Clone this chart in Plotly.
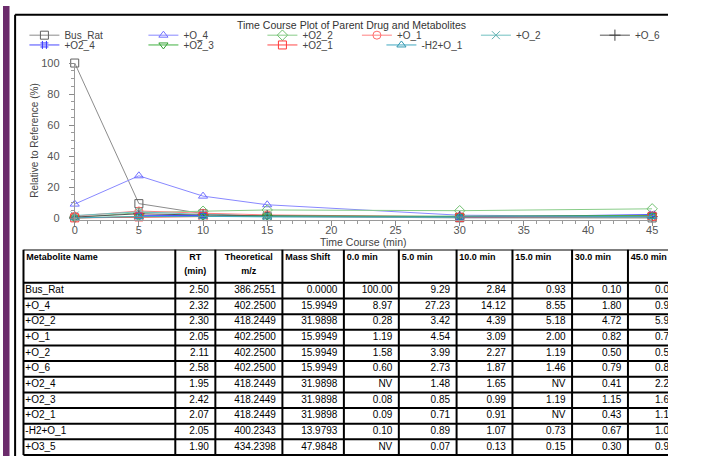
import plotly.graph_objects as go

W, H = 714, 460

times = [0, 5, 10, 15, 30, 45]
time_headers = ["0.0 min", "5.0 min", "10.0 min", "15.0 min", "30.0 min", "45.0 min"]

names = ["Bus_Rat", "+O_4", "+O2_2", "+O_1", "+O_2", "+O_6",
         "+O2_4", "+O2_3", "+O2_1", "-H2+O_1", "+O3_5"]
rt = [2.50, 2.32, 2.30, 2.05, 2.11, 2.58, 1.95, 2.42, 2.07, 2.05, 1.90]
mz = [386.2551, 402.2500, 418.2449, 402.2500, 402.2500, 402.2500,
      418.2449, 418.2449, 418.2449, 400.2343, 434.2398]
mass_shift = [0.0000, 15.9949, 31.9898, 15.9949, 15.9949, 15.9949,
              31.9898, 31.9898, 31.9898, 13.9793, 47.9848]

NV = None
bus_rat = [100.00, 9.29, 2.84, 0.93, 0.10, 0.03]
o_4 = [8.97, 27.23, 14.12, 8.55, 1.80, 0.95]
o2_2 = [0.28, 3.42, 4.39, 5.18, 4.72, 5.93]
o_1 = [1.19, 4.54, 3.09, 2.00, 0.82, 0.73]
o_2 = [1.58, 3.99, 2.27, 1.19, 0.50, 0.55]
o_6 = [0.60, 2.73, 1.87, 1.46, 0.79, 0.83]
o2_4 = [NV, 1.48, 1.65, NV, 0.41, 2.24]
o2_3 = [0.08, 0.85, 0.99, 1.19, 1.15, 1.63]
o2_1 = [0.09, 0.71, 0.91, NV, 0.43, 1.14]
h2_o_1 = [0.10, 0.89, 1.07, 0.73, 0.67, 1.03]
o3_5 = [NV, 0.07, 0.13, 0.15, 0.30, 0.93]

series = [bus_rat, o_4, o2_2, o_1, o_2, o_6, o2_4, o2_3, o2_1, h2_o_1, o3_5]

# ---------------- styles ----------------
FONT = "Arial, Liberation Sans, sans-serif"
styles = [  # line colour, marker colour, symbol, legend id
    ("#8c8c8c", "#606060", "square-open", "legend"),
    ("#8888ff", "#7070ff", "triangle-up-open", "legend"),
    ("#88cc88", "#70c070", "diamond-open", "legend"),
    ("#ff8080", "#ff6a6a", "circle-open", "legend2"),
    ("#70c0c0", "#60b0b0", "x-thin-open", "legend2"),
    ("#555555", "#444444", "cross-thin-open", "legend2"),
    ("#4848ff", "#3838ff", "hash-open", "legend3"),
    ("#40b040", "#30a030", "triangle-down-open", "legend3"),
    ("#ff4848", "#ff3838", "square-open", "legend3"),
    ("#40a8c0", "#3098b0", "triangle-up-open", "legend3"),
]


def px_x(p):
    return p / W


def px_y(p):
    return 1 - p / H


fig = go.Figure()
for i, (lc, mc, sym, lg) in enumerate(styles):
    fig.add_trace(go.Scatter(
        x=times, y=series[i], name=names[i], mode="lines+markers",
        line=dict(color=lc, width=1),
        marker=dict(symbol=sym, size=8, color=mc, line=dict(color=mc, width=1)),
        cliponaxis=False, legend=lg, xaxis="x", yaxis="y",
    ))

# ---------------- table (drawn on its own pixel-scaled axes) ----------------
TABLE_TOP = 249                # page px
TABLE_H = H - TABLE_TOP        # 211
HEADER_H = 34
ROW_H = 16
col_edges = [22, 185, 228, 300, 366, 425, 487, 547, 611, 671, 728]


def fmt2(v):
    return "NV" if v is None else f"{v:.2f}"


cols = [names, [f"{v:.2f}" for v in rt], [f"{v:.4f}" for v in mz],
        [f"{v:.4f}" for v in mass_shift]]
for j in range(6):
    cols.append([fmt2(s[j]) for s in series])

headers = [["Metabolite Name", ""], ["RT", "(min)"], ["Theoretical", "m/z"], ["Mass Shift", ""]] + \
          [[h, ""] for h in time_headers]
header_align = ["left", "center", "center"] + ["left"] * 7

# header text
hx, hy, ht, hpos = [], [], [], []
for c, (lines, al) in enumerate(zip(headers, header_align)):
    l, r = col_edges[c], col_edges[c + 1]
    for k, line in enumerate(lines):
        if not line:
            continue
        if al == "left":
            hx.append(l + 3)
            hpos.append("middle right")
        else:
            hx.append((l + r) / 2)
            hpos.append("middle center")
        hy.append(8 + 15 * k)
        ht.append(f"<b>{line}</b>")
fig.add_trace(go.Scatter(x=hx, y=hy, text=ht, mode="text", textposition=hpos,
                         textfont=dict(family=FONT, size=9, color="black"),
                         xaxis="x2", yaxis="y2", showlegend=False, hoverinfo="skip"))

# body text
bx, by, bt, bpos = [], [], [], []
for c, col in enumerate(cols):
    l, r = col_edges[c], col_edges[c + 1]
    for k, val in enumerate(col):
        yc = HEADER_H + ROW_H * k + ROW_H / 2
        if c == 0:
            bx.append(l + 2)
            bpos.append("middle right")
        else:
            bx.append(r - 7)
            bpos.append("middle left")
        by.append(yc)
        bt.append(val)
fig.add_trace(go.Scatter(x=bx, y=by, text=bt, mode="text", textposition=bpos,
                         textfont=dict(family=FONT, size=10, color="black"),
                         xaxis="x2", yaxis="y2", showlegend=False, hoverinfo="skip",
                         cliponaxis=True))

# table grid lines
shapes = []
n_rows = len(names)
row_edges = [0, HEADER_H] + [HEADER_H + ROW_H * (k + 1) for k in range(n_rows)]
for ye in row_edges:
    shapes.append(dict(type="line", xref="x2", yref="y2", x0=col_edges[0], x1=col_edges[-1],
                       y0=ye, y1=ye, line=dict(color="black", width=2)))
for xe in col_edges:
    shapes.append(dict(type="line", xref="x2", yref="y2", x0=xe, x1=xe,
                       y0=0, y1=row_edges[-1], line=dict(color="black", width=2)))

# frame decorations
shapes += [
    dict(type="rect", xref="paper", yref="paper", x0=0, x1=px_x(7), y0=0, y1=1,
         fillcolor="#6c2c6c", line=dict(width=0), layer="above"),
    dict(type="line", xref="paper", yref="paper", x0=px_x(13), x1=px_x(13),
         y0=0, y1=px_y(9), line=dict(color="black", width=2)),
    dict(type="line", xref="paper", yref="paper", x0=px_x(13), x1=1,
         y0=px_y(9), y1=px_y(9), line=dict(color="black", width=2)),
]

axis_common = dict(showgrid=False, zeroline=False, showline=True, linecolor="#9a9a9a",
                   linewidth=1, ticks="outside", ticklen=5, tickcolor="#8a8a8a",
                   tickfont=dict(family=FONT, size=11, color="#555555"))

legend_common = dict(orientation="h", xanchor="left", yanchor="top",
                     entrywidth=74, itemwidth=30, bgcolor="rgba(0,0,0,0)",
                     font=dict(family=FONT, size=10, color="#444444"))

fig.update_layout(
    width=W, height=H, autosize=False,
    margin=dict(l=0, r=0, t=0, b=0, pad=0),
    paper_bgcolor="white", plot_bgcolor="white",
    font=dict(family=FONT),
    xaxis=dict(domain=[px_x(77), px_x(697)], range=[0, 45], anchor="y",
               tickvals=list(range(0, 46, 5)), ticklabelstandoff=-5,
               minor=dict(dtick=1, ticks="outside", ticklen=3, tickcolor="#9a9a9a"),
               **axis_common),
    yaxis=dict(domain=[px_y(218.3), px_y(58.3)], range=[-1, 100], anchor="x",
               tickvals=list(range(0, 101, 20)), ticklabelstandoff=7,
               minor=dict(dtick=5, ticks="outside", ticklen=3, tickcolor="#9a9a9a"),
               **axis_common),
    xaxis2=dict(domain=[0, 1], range=[0, W], anchor="y2", visible=False, fixedrange=True),
    yaxis2=dict(domain=[0, px_y(TABLE_TOP)], range=[TABLE_H, 0], anchor="x2",
                visible=False, fixedrange=True),
    legend=dict(x=px_x(23), y=px_y(15), **legend_common),
    legend2=dict(x=px_x(23 + 3 * 119), y=px_y(15), **legend_common),
    legend3=dict(x=px_x(23), y=px_y(25), **legend_common),
    showlegend=True,
    annotations=[
        dict(text="Time Course Plot of Parent Drug and Metabolites", xref="paper", yref="paper",
             x=px_x(374), y=px_y(19.5), xanchor="center", yanchor="middle", showarrow=False,
             font=dict(family=FONT, size=10.5, color="#333333")),
        dict(text="Relative to Reference (%)", xref="paper", yref="paper",
             x=px_x(33), y=px_y(137), xanchor="center", yanchor="middle", showarrow=False,
             textangle=-90, font=dict(family=FONT, size=10, color="#444444")),
        dict(text="Time Course (min)", xref="paper", yref="paper",
             x=px_x(387), y=px_y(241), xanchor="center", yanchor="middle", showarrow=False,
             font=dict(family=FONT, size=10.5, color="#444444")),
    ],
    shapes=shapes,
)

fig.write_html("out.html", config={"displayModeBar": False},
               post_script="document.body.style.margin='0px';")
